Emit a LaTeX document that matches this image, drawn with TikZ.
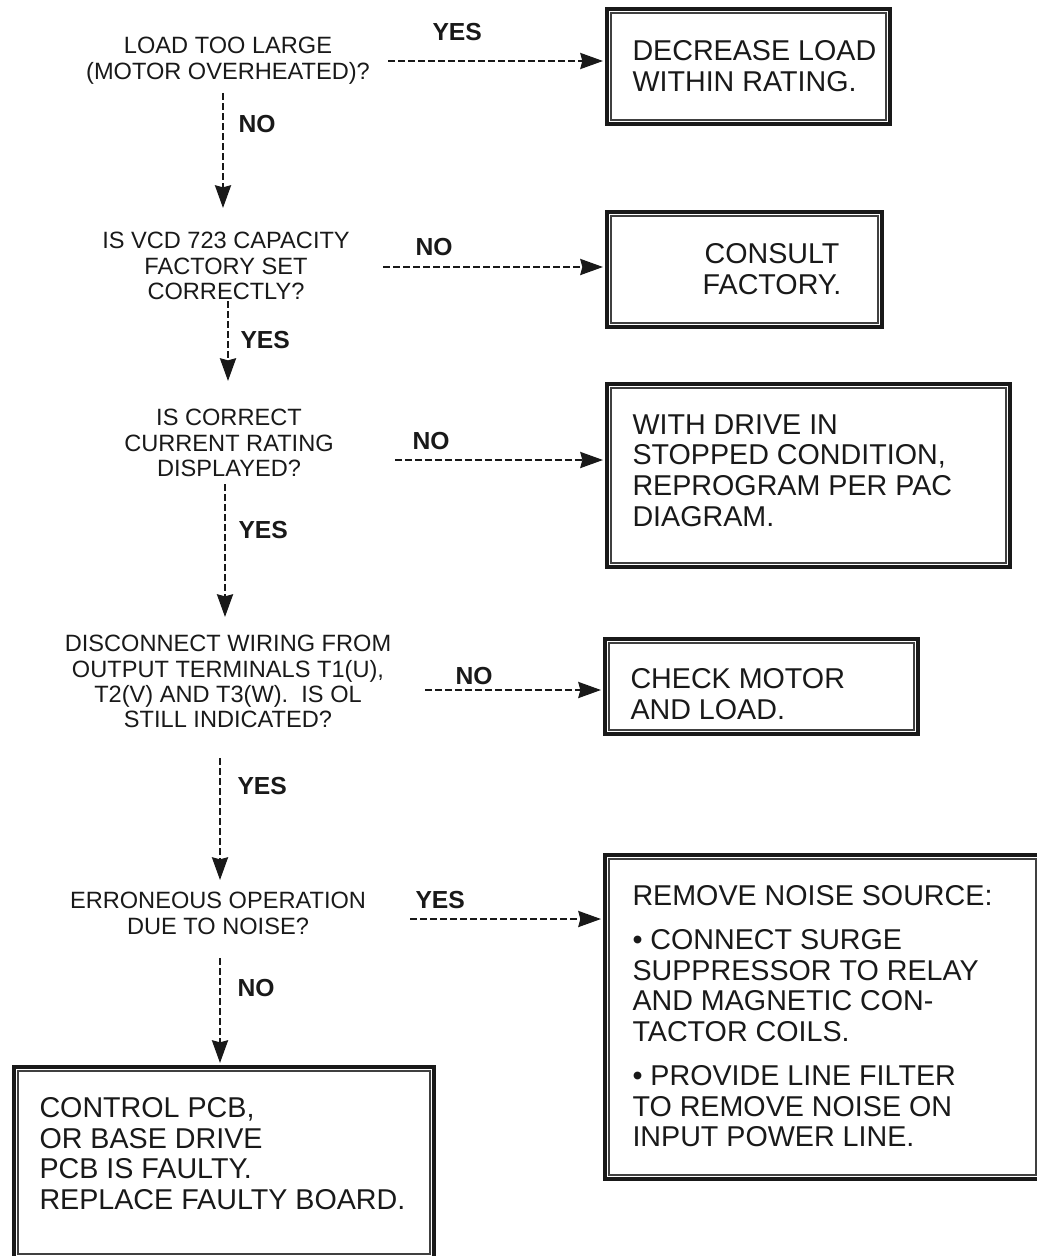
\documentclass[tikz,border=0pt]{standalone}
\usepackage{fontspec}
\setmainfont{Liberation Sans}
\usetikzlibrary{arrows.meta,fit}

\tikzset{every picture/.style={line width=0.75pt}}
\tikzset{
  outerbox/.style={draw=black!90, line width=3pt, inner sep=0pt},
  innerbox/.style={draw=black!75, line width=1pt, inner sep=-4.5pt},
  flow/.style={draw=black!90, line width=1.8pt, dash pattern=on 5pt off 2.5pt,
    -{Stealth[length=17pt,width=12pt,inset=1.5pt]}},
  question/.style={align=center, inner sep=0pt, text=black!90,
    font=\fontsize{17.7}{18.9}\selectfont},
  answer/.style={anchor=west, inner sep=0pt, text=black!90,
    font=\fontsize{18.5}{20}\selectfont\bfseries},
  action/.style={align=left, inner sep=0pt, text=black!90,
    font=\fontsize{21.5}{23}\selectfont},
}

\begin{document}
\begin{tikzpicture}[x=0.75pt,y=0.75pt,yscale=-1,xscale=1]
\useasboundingbox (0,0) rectangle (1037,1256);

%Shape: Double Rectangle [decrease load]
\node [outerbox, fit={(607,9) (890,124)}] (b1) {};
\node [innerbox, fit=(b1)] (b1i) {};
%Shape: Double Rectangle [consult factory]
\node [outerbox, fit={(607,212) (882,327)}] (b2) {};
\node [innerbox, fit=(b2)] (b2i) {};
%Shape: Double Rectangle [reprogram]
\node [outerbox, fit={(607,384) (1010,567)}] (b3) {};
\node [innerbox, fit=(b3)] (b3i) {};
%Shape: Double Rectangle [check motor]
\node [outerbox, fit={(605,639) (918,734)}] (b4) {};
\node [innerbox, fit=(b4)] (b4i) {};
%Shape: Double Rectangle [noise source]
\node [outerbox, fit={(605,855) (1040,1179)}] (b5) {};
\node [innerbox, fit=(b5)] (b5i) {};
%Shape: Double Rectangle [faulty board]
\node [outerbox, fit={(14,1067) (434,1258)}] (b6) {};
\node [innerbox, fit=(b6)] (b6i) {};

% Text Node
\draw (228,37) node (q1) [anchor=north][question] {LOAD TOO LARGE\\(MOTOR OVERHEATED)?};
% Text Node
\draw (226,232) node (q2) [anchor=north][question] {IS VCD 723 CAPACITY\\FACTORY SET\\CORRECTLY?};
% Text Node
\draw (229,409) node (q3) [anchor=north][question] {IS CORRECT\\CURRENT RATING\\DISPLAYED?};
% Text Node
\draw (228,635) node (q4) [anchor=north][question] {DISCONNECT WIRING FROM\\OUTPUT TERMINALS T1(U),\\T2(V) AND T3(W).\ \ IS OL\\STILL INDICATED?};
% Text Node
\draw (218,892) node (q5) [anchor=north][question] {ERRONEOUS OPERATION\\DUE TO NOISE?};

% Text Node
\draw (632,40) node (t1) [anchor=north west][action] {DECREASE LOAD\\WITHIN RATING.};
% Text Node
\draw (772,243) node (t2) [anchor=north][action, align=center] {CONSULT\\FACTORY.};
% Text Node
\draw (632,414) node (t3) [anchor=north west][action] {WITH DRIVE IN\\STOPPED CONDITION,\\REPROGRAM PER PAC\\DIAGRAM.};
% Text Node
\draw (630,668) node (t4) [anchor=north west][action] {CHECK MOTOR\\AND LOAD.};
% Text Node
\draw (632,885) node (t5) [anchor=north west][action] {REMOVE NOISE SOURCE:\\[10pt]%
  \textbullet\ CONNECT SURGE\\SUPPRESSOR TO RELAY\\AND MAGNETIC CON-\\TACTOR COILS.\\[10pt]%
  \textbullet\ PROVIDE LINE FILTER\\TO REMOVE NOISE ON\\INPUT POWER LINE.};
% Text Node
\draw (39,1097) node (t6) [anchor=north west][action] {CONTROL PCB,\\OR BASE DRIVE\\PCB IS FAULTY.\\REPLACE FAULTY BOARD.};

%Straight Lines [vertical flow]
\coordinate (v1s) at (223,93);  \coordinate (v1e) at (223,208);
\coordinate (v2s) at (228,301); \coordinate (v2e) at (228,381);
\coordinate (v3s) at (225,484); \coordinate (v3e) at (225,617);
\coordinate (v4s) at (220,758); \coordinate (v4e) at (220,880);
\coordinate (v5s) at (220,958);
\draw [flow] (v1s) -- (v1e);
\draw [flow] (v2s) -- (v2e);
\draw [flow] (v3s) -- (v3e);
\draw [flow] (v4s) -- (v4e);
\draw [flow, shorten >=1.5pt] (v5s) -- (v5s |- b6.north);

%Straight Lines [horizontal flow]
\coordinate (h1) at (388,61);
\coordinate (h2) at (383,267);
\coordinate (h3) at (395,460);
\coordinate (h4) at (425,690);
\coordinate (h5) at (410,919);
\draw [flow, shorten >=1.5pt] (h1) -- (h1 -| b1.west);
\draw [flow, shorten >=1.5pt] (h2) -- (h2 -| b2.west);
\draw [flow, shorten >=1.5pt] (h3) -- (h3 -| b3.west);
\draw [flow, shorten >=1.5pt] (h4) -- (h4 -| b4.west);
\draw [flow, shorten >=1.5pt] (h5) -- (h5 -| b5.west);

% Text Node
\draw (238,124) node (a1) [answer] {NO};
% Text Node
\draw (240,340) node (a2) [answer] {YES};
% Text Node
\draw (238,530) node (a3) [answer] {YES};
% Text Node
\draw (237,786) node (a4) [answer] {YES};
% Text Node
\draw (237,988) node (a5) [answer] {NO};
% Text Node
\draw (432,32) node (y1) [answer] {YES};
% Text Node
\draw (415,247) node (y2) [answer] {NO};
% Text Node
\draw (412,441) node (y3) [answer] {NO};
% Text Node
\draw (455,676) node (y4) [answer] {NO};
% Text Node
\draw (415,900) node (y5) [answer] {YES};

\end{tikzpicture}
\end{document}
